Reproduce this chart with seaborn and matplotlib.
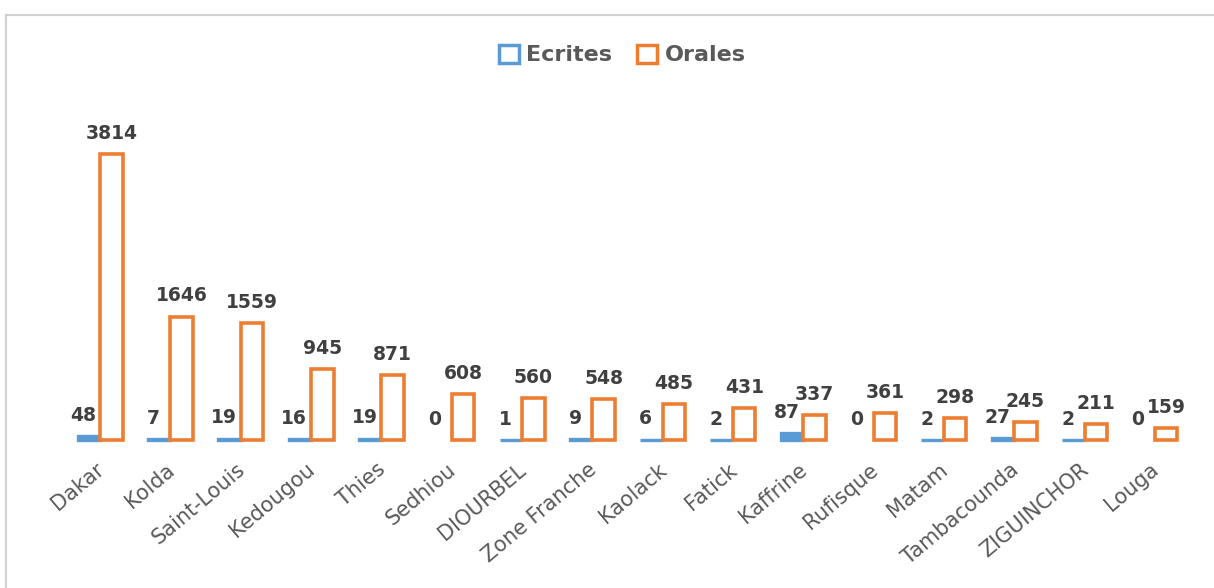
import matplotlib
matplotlib.use("Agg")
import matplotlib.pyplot as plt
import matplotlib.transforms as mtransforms
import seaborn as sns
import pandas as pd
from matplotlib.patches import Patch, Rectangle

regions = ["Dakar", "Kolda", "Saint-Louis", "Kedougou", "Thies", "Sedhiou",
           "DIOURBEL", "Zone Franche", "Kaolack", "Fatick", "Kaffrine",
           "Rufisque", "Matam", "Tambacounda", "ZIGUINCHOR", "Louga"]
ecrites = [48, 7, 19, 16, 19, 0, 1, 9, 6, 2, 87, 0, 2, 27, 2, 0]
orales = [3814, 1646, 1559, 945, 871, 608, 560, 548, 485, 431, 337, 361, 298, 245, 211, 159]
series = ["Ecrites", "Orales"]

blue = "#5B9BD5"
orange = "#ED7D31"

df = pd.DataFrame({
    "Region": regions * 2,
    "Type": ["Ecrites"] * len(regions) + ["Orales"] * len(regions),
    "Valeur": ecrites + orales,
})

sns.set_theme(style="white")
plt.rcParams['font.family'] = ['DejaVu Sans']

W, H = 1214, 588
fig = plt.figure(figsize=(W / 100, H / 100), dpi=100)
ax = fig.add_axes([65 / W, 1 - 440 / H, 1125 / W, 300 / H])

sns.barplot(data=df, x="Region", y="Valeur", hue="Type", order=regions,
            hue_order=series, palette=[blue, orange], width=0.64,
            saturation=1, ax=ax, legend=False)

for cont, name in zip(ax.containers, series):
    for bar in cont:
        bar.set_clip_on(False)
        if name == "Orales":
            bar.set_facecolor("white")
            bar.set_edgecolor(orange)
            bar.set_linewidth(2.6)
            bar.set_zorder(3)
        else:
            bar.set_facecolor(blue)
            bar.set_edgecolor(blue)
            bar.set_linewidth(2.4 if bar.get_height() > 0 else 0)
            bar.set_zorder(2)
    labels = ax.bar_label(cont, padding=8, fontsize=13.5, fontweight="bold",
                          color="#404040")
    if name == "Ecrites":
        for lab in labels:
            lab.xyann = (-4, 8)

ax.set_xlim(-0.5, 15.5)
ax.set_ylim(0, 4000)
ax.set_xlabel("")
ax.set_ylabel("")
ax.set_yticks([])
for s in ax.spines.values():
    s.set_visible(False)
ax.tick_params(axis="x", length=0, pad=14)
ax.set_xticks(range(len(regions)))
ax.set_xticklabels(regions, rotation=40, ha="right", rotation_mode="anchor",
                   fontsize=15, color="#595959")
shift = mtransforms.ScaledTranslation(-5 / 100, 0, fig.dpi_scale_trans)
for lab in ax.get_xticklabels():
    lab.set_transform(lab.get_transform() + shift)

handles = [Patch(facecolor="white", edgecolor=blue, linewidth=2.5, label="Ecrites"),
           Patch(facecolor="white", edgecolor=orange, linewidth=2.5, label="Orales")]
leg = fig.legend(handles=handles, loc="center", bbox_to_anchor=(622 / W, 1 - 55 / H),
                 ncol=2, frameon=False, handlelength=0.9, handleheight=0.9,
                 handletextpad=0.35, columnspacing=1.1,
                 prop={"family": "DejaVu Sans", "weight": "bold", "size": 16})
for t in leg.get_texts():
    t.set_color("#595959")

fig.patches.append(Rectangle((6 / W, -0.1), 1.2, 1 - 15 / H + 0.1,
                             transform=fig.transFigure, fill=False,
                             edgecolor="#d0d0d0", linewidth=1.5))

fig.savefig("out.png", dpi=100)
